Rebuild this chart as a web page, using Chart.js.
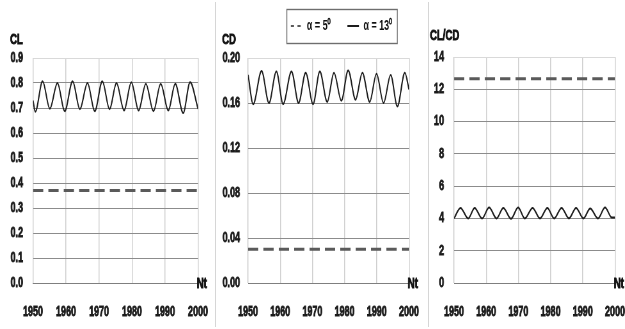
<!DOCTYPE html>
<html>
<head>
<meta charset="utf-8">
<script src="https://cdn.jsdelivr.net/npm/chart.js@4.4.1/dist/chart.umd.min.js"></script>
<style>
    html, body { margin: 0; padding: 0; background: #fff; }
    #wrap { position: relative; width: 625px; height: 329px; overflow: hidden; }
    .panel { position: absolute; top: 0; height: 329px; }
    .panel canvas { display: block; height: 329px; }
    .sep { position: absolute; top: 2px; width: 1px; height: 325px; background: #d6d6d6; }
</style>
</head>
<body>
<div id="wrap">
    <div class="panel" style="left:0;width:215px"><canvas id="cl-chart"></canvas></div>
    <div class="sep" style="left:215px"></div>
    <div class="panel" style="left:216px;width:212px"><canvas id="cd-chart"></canvas></div>
    <div class="sep" style="left:428px"></div>
    <div class="panel" style="left:429px;width:196px"><canvas id="ratio-chart"></canvas></div>
</div>
<script>
/* ---------- data ---------- */
const ntTicks = [1950, 1960, 1970, 1980, 1990, 2000];
const clTicks = [0, 0.1, 0.2, 0.3, 0.4, 0.5, 0.6, 0.7, 0.8, 0.9];
const cdTicks = [0, 0.04, 0.08, 0.12, 0.16, 0.20];
const ratioTicks = [0, 2, 4, 6, 8, 10, 12, 14];

const seriesNames = ['α = 5⁰', 'α = 13⁰'];

// alpha = 5 deg : flat lines
const ntFlat = [1950, 2000];
const cl5 = [0.37, 0.37];
const cd5 = [0.03, 0.03];
const ratio5 = [12.65, 12.65];

// alpha = 13 deg : oscillating (peaks / troughs)
const ntCl13 = [1950, 1950.7, 1952.9, 1955.1, 1957.4, 1959.6, 1962.0, 1964.2, 1966.5, 1968.7, 1971.0,
    1973.2, 1975.3, 1977.6, 1979.8, 1982.0, 1984.2, 1986.5, 1988.7, 1991.0, 1993.1, 1995.5, 1997.6, 2000];
const cl13 = [0.73, 0.685, 0.807, 0.697, 0.800, 0.687, 0.807, 0.695, 0.800, 0.687, 0.807,
    0.695, 0.800, 0.690, 0.803, 0.690, 0.797, 0.687, 0.797, 0.690, 0.797, 0.680, 0.803, 0.697];

const ntCd13 = [1950, 1951.6, 1954.2, 1956.5, 1958.8, 1960.9, 1963.5, 1965.7, 1967.9, 1970.2, 1972.3,
    1974.6, 1976.7, 1979.0, 1981.1, 1983.4, 1985.5, 1987.8, 1989.9, 1992.1, 1994.3, 1996.4, 1998.7, 2000];
const cd13 = [0.185, 0.159, 0.1885, 0.160, 0.188, 0.159, 0.188, 0.160, 0.187, 0.159, 0.188,
    0.161, 0.187, 0.162, 0.189, 0.163, 0.187, 0.161, 0.186, 0.160, 0.185, 0.157, 0.187, 0.172];

const ntRatio13 = [1950, 1952.0, 1954.4, 1956.4, 1958.7, 1960.9, 1963.2, 1965.3, 1967.7, 1969.9, 1972.0,
    1974.4, 1976.7, 1979.0, 1981.1, 1983.4, 1985.7, 1987.9, 1990.2, 1992.3, 1994.7, 1996.9, 1999.0, 2000];
const ratio13 = [4.0, 4.65, 4.0, 4.65, 4.0, 4.68, 4.0, 4.65, 3.98, 4.68, 4.0,
    4.65, 4.0, 4.65, 4.0, 4.65, 4.0, 4.65, 4.0, 4.62, 4.0, 4.68, 4.05, 4.05];

/* ---------- helpers ---------- */
// the original figure is squeezed sideways; each canvas is drawn wider and shown narrower
const SX = 0.64;
const FONT = "'Liberation Sans', Arial, sans-serif";
const pts = (xs, ys) => xs.map((x, i) => ({ x, y: ys[i] }));
const u = px => px / SX;   // screen px -> canvas px (horizontal)

function dashedSet(xs, ys) {
    return {
        label: seriesNames[0],
        data: pts(xs, ys),
        borderColor: '#5a5a5a',
        borderWidth: 3,
        borderDash: [16, 8],
        pointRadius: 0
    };
}

function solidSet(xs, ys) {
    return {
        label: seriesNames[1],
        data: pts(xs, ys),
        borderColor: '#1c1c1c',
        borderWidth: 2,
        cubicInterpolationMode: 'monotone',
        pointRadius: 0
    };
}

// axis name above the y axis and "Nt" at the right end of the x axis
const axisNames = {
    id: 'axisNames',
    afterDraw(chart, args, opts) {
        const { ctx, chartArea } = chart;
        ctx.save();
        ctx.font = `bold 15px ${FONT}`;
        ctx.fillStyle = '#111';
        ctx.strokeStyle = '#111';
        ctx.lineWidth = 0.9;
        ctx.textBaseline = 'middle';
        ctx.textAlign = 'left';
        const lx = chartArea.left + opts.dx, ly = chartArea.top + opts.dy;
        ctx.fillText(opts.text, lx, ly);
        ctx.strokeText(opts.text, lx, ly);
        ctx.fillText('Nt', chartArea.right - 2, chartArea.bottom + 1);
        ctx.strokeText('Nt', chartArea.right - 2, chartArea.bottom + 1);
        ctx.restore();
    }
};

// frame round the legend items
const legendFrame = {
    id: 'legendFrame',
    afterDraw(chart) {
        const lg = chart.legend;
        if (!lg || !lg.options.display || !lg.legendHitBoxes.length) return;
        const hb = lg.legendHitBoxes;
        const first = hb[0], last = hb[hb.length - 1];
        const cy = first.top + first.height / 2;
        const { ctx } = chart;
        ctx.save();
        ctx.strokeStyle = '#6e6e6e';
        ctx.lineWidth = 1.4;
        const x0 = first.left - u(4), x1 = last.left + last.width + u(5);
        ctx.strokeRect(x0, Math.round(cy - 17) + 0.5, x1 - x0, 34);
        ctx.restore();
    }
};

function makePanel(id, cssWidth, cfg) {
    const canvas = document.getElementById(id);
    canvas.width = Math.round(cssWidth / SX);
    canvas.height = 329;
    canvas.style.width = cssWidth + 'px';
    canvas.style.height = '329px';

    const tickFont = { family: FONT, size: 14, weight: 'bold' };
    return new Chart(canvas, {
        type: 'line',
        data: { datasets: cfg.datasets },
        plugins: [axisNames, legendFrame],
        options: {
            responsive: false,
            animation: false,
            layout: { padding: { left: 0, right: u(cfg.padRight), top: cfg.padTop, bottom: 0 } },
            plugins: {
                tooltip: { enabled: false },
                axisNames: { text: cfg.title, dx: u(cfg.titleDx), dy: cfg.titleDy },
                // empty title only keeps the gap under the legend
                title: cfg.legend ? {
                    display: true, text: '', weight: 500,
                    font: { size: 10 }, padding: { top: 3, bottom: 0 }
                } : { display: false },
                legend: cfg.legend ? {
                    display: true,
                    position: 'top',
                    align: 'end',
                    labels: {
                        usePointStyle: true,
                        pointStyle: 'line',
                        pointStyleWidth: 18,
                        padding: cfg.legendPad,
                        color: '#111',
                        font: { family: FONT, size: 14, weight: 'bold' },
                        // point style labels lose the dataset dash, so set it here (first dataset is the dashed one)
                        generateLabels: chart => Chart.defaults.plugins.legend.labels.generateLabels(chart)
                            .map(it => ({
                                ...it,
                                lineDash: it.datasetIndex === 0 ? [5, 5.33] : [],
                                strokeStyle: chart.data.datasets[it.datasetIndex].borderColor,
                                lineWidth: 2.2
                            }))
                    }
                } : { display: false }
            },
            scales: {
                x: {
                    type: 'linear',
                    min: 1950,
                    max: 2000,
                    afterBuildTicks: s => { s.ticks = ntTicks.map(v => ({ value: v })); },
                    afterFit: s => { s.height = 46; },
                    grid: { drawTicks: true, tickLength: 21, tickColor: 'rgba(0,0,0,0)', color: '#cfcfcf', lineWidth: 1.5 },
                    border: { display: true, color: '#7f7f7f', width: 1 },
                    ticks: {
                        padding: 0, maxRotation: 0, autoSkip: false, color: '#1a1a1a', font: tickFont,
                        textStrokeColor: '#1a1a1a', textStrokeWidth: 0.8, callback: v => String(v)
                    }
                },
                y: {
                    min: cfg.yTicks[0],
                    max: cfg.yTicks[cfg.yTicks.length - 1],
                    afterBuildTicks: s => { s.ticks = cfg.yTicks.map(v => ({ value: v })); },
                    afterFit: s => { s.width = u(cfg.yWidth); },
                    grid: {
                        drawTicks: false,
                        color: c => c.tick.value === cfg.yTicks[cfg.yTicks.length - 1] ? '#d9d9d9' : '#8c8c8c'
                    },
                    border: { display: false },
                    ticks: {
                        padding: u(cfg.tickPad), color: '#1a1a1a', font: tickFont,
                        textStrokeColor: '#1a1a1a', textStrokeWidth: 0.8, callback: v => v.toFixed(cfg.decimals)
                    }
                }
            }
        }
    });
}

// sizes below are in screen pixels
makePanel('cl-chart', 215, {
    title: 'CL', titleDx: -23, titleDy: -18,
    datasets: [dashedSet(ntFlat, cl5), solidSet(ntCl13, cl13)],
    yTicks: clTicks, decimals: 1,
    padRight: 17, padTop: 58, yWidth: 33, tickPad: 10
});

makePanel('cd-chart', 212, {
    title: 'CD', titleDx: -26, titleDy: -18,
    legend: true, legendPad: 26,
    datasets: [dashedSet(ntFlat, cd5), solidSet(ntCd13, cd13)],
    yTicks: cdTicks, decimals: 2,
    padRight: 19, padTop: -7, yWidth: 32, tickPad: 8
});

makePanel('ratio-chart', 196, {
    title: 'CL/CD', titleDx: -24, titleDy: -21,
    datasets: [dashedSet(ntFlat, ratio5), solidSet(ntRatio13, ratio13)],
    yTicks: ratioTicks, decimals: 0,
    padRight: 10, padTop: 57, yWidth: 25, tickPad: 10
});
</script>
</body>
</html>
